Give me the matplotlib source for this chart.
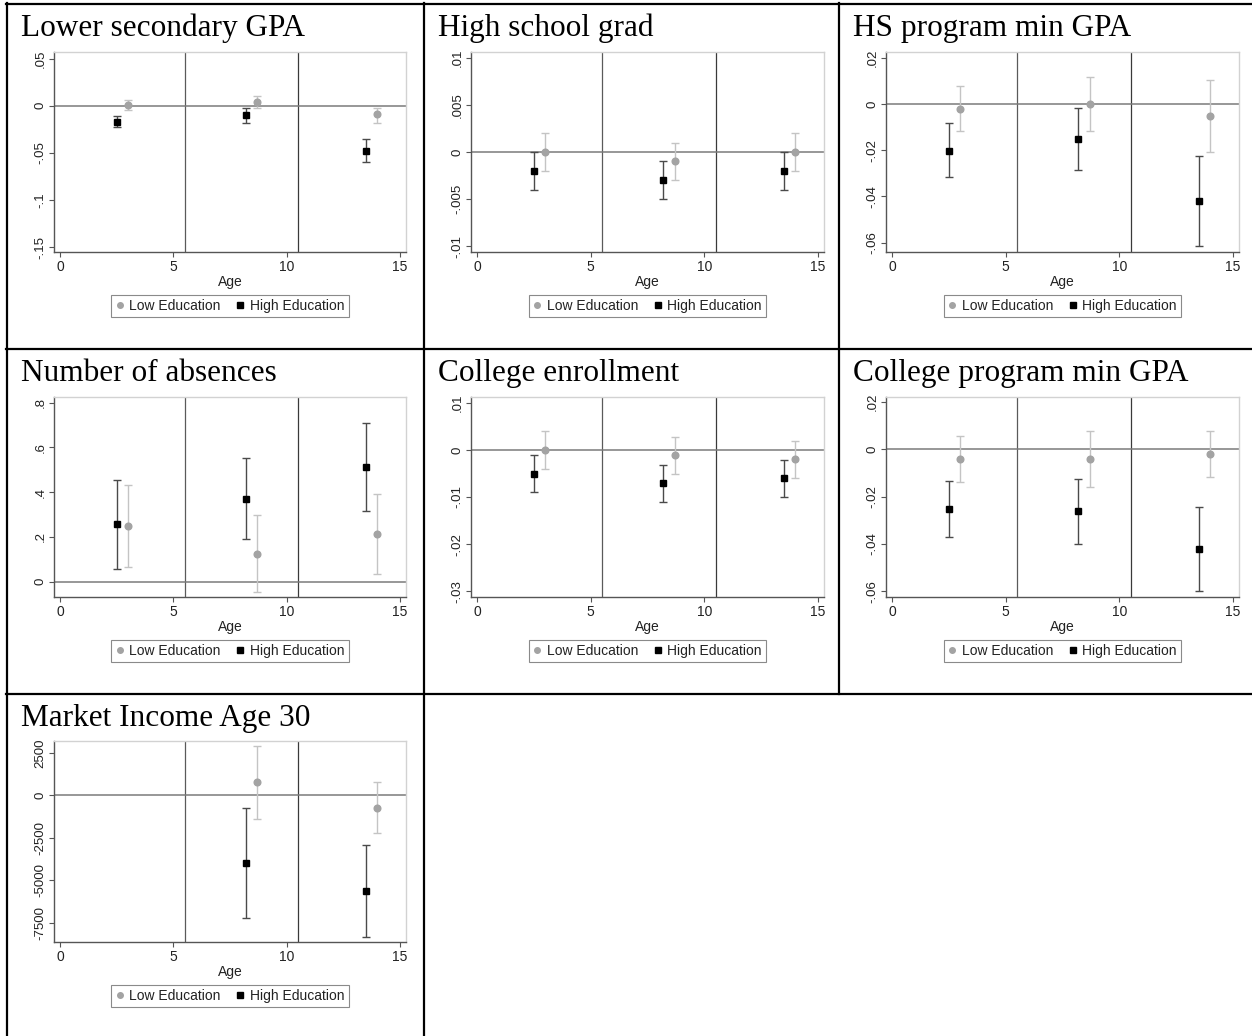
import matplotlib
matplotlib.use("Agg")
import matplotlib.pyplot as plt
from matplotlib.lines import Line2D

W, H = 1252, 1036

# ---------------- data ----------------
titles = ["Lower secondary GPA", "High school grad", "HS program min GPA",
          "Number of absences", "College enrollment", "College program min GPA",
          "Market Income Age 30"]

x_high = [2.5, 8.2, 13.5]
x_low = [3.0, 8.7, 14.0]

gpa_low = [0.001, 0.004, -0.009]
gpa_low_lo = [-0.005, -0.0025, -0.0178]
gpa_low_hi = [0.0064, 0.010, -0.0022]
gpa_high = [-0.0168, -0.0093, -0.0479]
gpa_high_lo = [-0.023, -0.0178, -0.060]
gpa_high_hi = [-0.0104, -0.0021, -0.0357]

hs_low = [0.0, -0.001, 0.0]
hs_low_lo = [-0.002, -0.003, -0.002]
hs_low_hi = [0.002, 0.001, 0.002]
hs_high = [-0.002, -0.003, -0.002]
hs_high_lo = [-0.004, -0.005, -0.004]
hs_high_hi = [0.0, -0.001, 0.0]

hsp_low = [-0.0022, 0.0, -0.0052]
hsp_low_lo = [-0.0118, -0.0118, -0.0208]
hsp_low_hi = [0.0076, 0.0118, 0.0105]
hsp_high = [-0.0202, -0.0152, -0.042]
hsp_high_lo = [-0.0317, -0.0287, -0.0616]
hsp_high_hi = [-0.0082, -0.0016, -0.0227]

abs_low = [0.251, 0.126, 0.214]
abs_low_lo = [0.067, -0.045, 0.036]
abs_low_hi = [0.434, 0.297, 0.393]
abs_high = [0.256, 0.369, 0.513]
abs_high_lo = [0.059, 0.189, 0.317]
abs_high_hi = [0.455, 0.552, 0.709]

col_low = [0.0, -0.0011, -0.002]
col_low_lo = [-0.004, -0.0051, -0.006]
col_low_hi = [0.0039, 0.0028, 0.0019]
col_high = [-0.0051, -0.007, -0.006]
col_high_lo = [-0.009, -0.011, -0.010]
col_high_hi = [-0.0011, -0.0032, -0.0021]

cp_low = [-0.0041, -0.0041, -0.0021]
cp_low_lo = [-0.0139, -0.0159, -0.0118]
cp_low_hi = [0.0055, 0.0079, 0.0079]
cp_high = [-0.0252, -0.026, -0.0421]
cp_high_lo = [-0.037, -0.0399, -0.0597]
cp_high_hi = [-0.0132, -0.0125, -0.0245]

inc_x_low = [8.7, 14.0]
inc_x_high = [8.2, 13.5]
inc_low = [771, -731]
inc_low_lo = [-1364, -2213]
inc_low_hi = [2925, 771]
inc_high = [-3992, -5652]
inc_high_lo = [-7233, -8320]
inc_high_hi = [-751, -2945]

yticks_gpa = [0.05, 0, -0.05, -0.1, -0.15]
ylabels_gpa = [".05", "0", "-.05", "-.1", "-.15"]
yticks_hs = [0.01, 0.005, 0, -0.005, -0.01]
ylabels_hs = [".01", ".005", "0", "-.005", "-.01"]
yticks_hsp = [0.02, 0, -0.02, -0.04, -0.06]
ylabels_hsp = [".02", "0", "-.02", "-.04", "-.06"]
yticks_abs = [0.8, 0.6, 0.4, 0.2, 0]
ylabels_abs = [".8", ".6", ".4", ".2", "0"]
yticks_col = [0.01, 0, -0.01, -0.02, -0.03]
ylabels_col = [".01", "0", "-.01", "-.02", "-.03"]
yticks_cp = [0.02, 0, -0.02, -0.04, -0.06]
ylabels_cp = [".02", "0", "-.02", "-.04", "-.06"]
yticks_inc = [2500, 0, -2500, -5000, -7500]
ylabels_inc = ["2500", "0", "-2500", "-5000", "-7500"]

xticks = [0, 5, 10, 15]
xticklabels = ["0", "5", "10", "15"]
cutoffs = [5.5, 10.5]
series_names = ["Low Education", "High Education"]

# ---------------- styling ----------------
plt.rcParams["font.family"] = ["Liberation Sans", "DejaVu Sans"]
LOW_C = "#a3a3a3"
LOW_E = "#c4c4c4"
HIGH_C = "#000000"
HIGH_E = "#4a4a4a"

fig = plt.figure(figsize=(W / 100, H / 100), dpi=100)


def frac_box(x0, y0, x1, y1):
    return [x0 / W, 1 - y1 / H, (x1 - x0) / W, (y1 - y0) / H]


col_x = [(54, 406), (471, 824), (886, 1239)]
row_y = [(52, 252), (397, 597), (741, 942)]
col_left = [21, 438, 853]
row_title = [36, 381, 726]

panels = [
    (titles[0], x_low, gpa_low, gpa_low_lo, gpa_low_hi, x_high, gpa_high, gpa_high_lo, gpa_high_hi,
     (-0.155, 0.057), yticks_gpa, ylabels_gpa),
    (titles[1], x_low, hs_low, hs_low_lo, hs_low_hi, x_high, hs_high, hs_high_lo, hs_high_hi,
     (-0.0106, 0.0106), yticks_hs, ylabels_hs),
    (titles[2], x_low, hsp_low, hsp_low_lo, hsp_low_hi, x_high, hsp_high, hsp_high_lo, hsp_high_hi,
     (-0.064, 0.0224), yticks_hsp, ylabels_hsp),
    (titles[3], x_low, abs_low, abs_low_lo, abs_low_hi, x_high, abs_high, abs_high_lo, abs_high_hi,
     (-0.068, 0.825), yticks_abs, ylabels_abs),
    (titles[4], x_low, col_low, col_low_lo, col_low_hi, x_high, col_high, col_high_lo, col_high_hi,
     (-0.0312, 0.0112), yticks_col, ylabels_col),
    (titles[5], x_low, cp_low, cp_low_lo, cp_low_hi, x_high, cp_high, cp_high_lo, cp_high_hi,
     (-0.0624, 0.0222), yticks_cp, ylabels_cp),
    (titles[6], inc_x_low, inc_low, inc_low_lo, inc_low_hi, inc_x_high, inc_high, inc_high_lo, inc_high_hi,
     (-8644, 3207), yticks_inc, ylabels_inc),
]

for i, (title, xl, yl, yl_lo, yl_hi, xh, yh, yh_lo, yh_hi, ylim, yt, ytl) in enumerate(panels):
    r, c = divmod(i, 3)
    x0, x1 = col_x[c]
    y0, y1 = row_y[r]
    ax = fig.add_axes(frac_box(x0, y0, x1, y1))
    ax.set_xlim(-0.27, 15.27)
    ax.set_ylim(*ylim)

    for cx, lc in zip(cutoffs, ["#5a5a5a", "#3a3a3a"]):
        ax.axvline(cx, color=lc, lw=0.9, zorder=1)
    ax.axhline(0, color="#7a7a7a", lw=1.1, zorder=1)

    low_err = [[v - lo for v, lo in zip(yl, yl_lo)], [hi - v for v, hi in zip(yl, yl_hi)]]
    high_err = [[v - lo for v, lo in zip(yh, yh_lo)], [hi - v for v, hi in zip(yh, yh_hi)]]
    ax.errorbar(xl, yl, yerr=low_err, fmt="none", ecolor=LOW_E, elinewidth=1.0,
                capsize=2.8, capthick=1.0, zorder=2)
    ax.errorbar(xh, yh, yerr=high_err, fmt="none", ecolor=HIGH_E, elinewidth=1.0,
                capsize=2.8, capthick=1.0, zorder=2)
    ax.plot(xl, yl, "o", color=LOW_C, ms=4.8, mec=LOW_C, zorder=3)
    ax.plot(xh, yh, "s", color=HIGH_C, ms=5.0, mec=HIGH_C, zorder=3)

    for side in ["top", "right"]:
        ax.spines[side].set_color("#d2d2d2")
        ax.spines[side].set_linewidth(1.0)
    for side in ["left", "bottom"]:
        ax.spines[side].set_color("#555555")
        ax.spines[side].set_linewidth(1.0)

    ax.set_yticks(yt)
    ax.set_yticklabels(ytl, rotation=90, va="center", fontsize=9.5, color="#222222")
    ax.set_xticks(xticks)
    ax.set_xticklabels(xticklabels, fontsize=10, color="#222222")
    ax.tick_params(axis="both", direction="out", length=3.5, width=0.8, color="#555555", pad=2)
    ax.set_xlabel("Age", fontsize=10, color="#222222", labelpad=1)

    handles = [Line2D([], [], ls="none", marker="o", color=LOW_C, ms=4),
               Line2D([], [], ls="none", marker="s", color=HIGH_C, ms=4)]
    leg = ax.legend(handles, series_names, loc="upper center", bbox_to_anchor=(0.5, -0.18),
                    ncol=2, frameon=True, fancybox=False, edgecolor="#8a8a8a",
                    fontsize=10, handlelength=0.6, handletextpad=0.4, columnspacing=1.1,
                    borderpad=0.3, framealpha=1)
    leg.get_frame().set_linewidth(0.8)
    for t in leg.get_texts():
        t.set_color("#222222")

    fig.text(col_left[c] / W, 1 - row_title[r] / H, title, family=["Liberation Serif", "DejaVu Serif"],
             fontsize=22.5, color="black", ha="left", va="baseline")

# ---------------- table rules ----------------
lw = 1.6
def hline(y, x0, x1):
    fig.add_artist(Line2D([x0 / W, x1 / W], [1 - y / H, 1 - y / H], color="black", lw=lw))

def vline(x, y0, y1):
    fig.add_artist(Line2D([x / W, x / W], [1 - y0 / H, 1 - y1 / H], color="black", lw=lw))

hline(4, 6, W)
hline(348.5, 6, W)
hline(693.5, 6, W)
vline(7, 3, H)
vline(423.5, 3, H)
vline(838.5, 3, 693.5)

fig.savefig("out.png", dpi=100)
